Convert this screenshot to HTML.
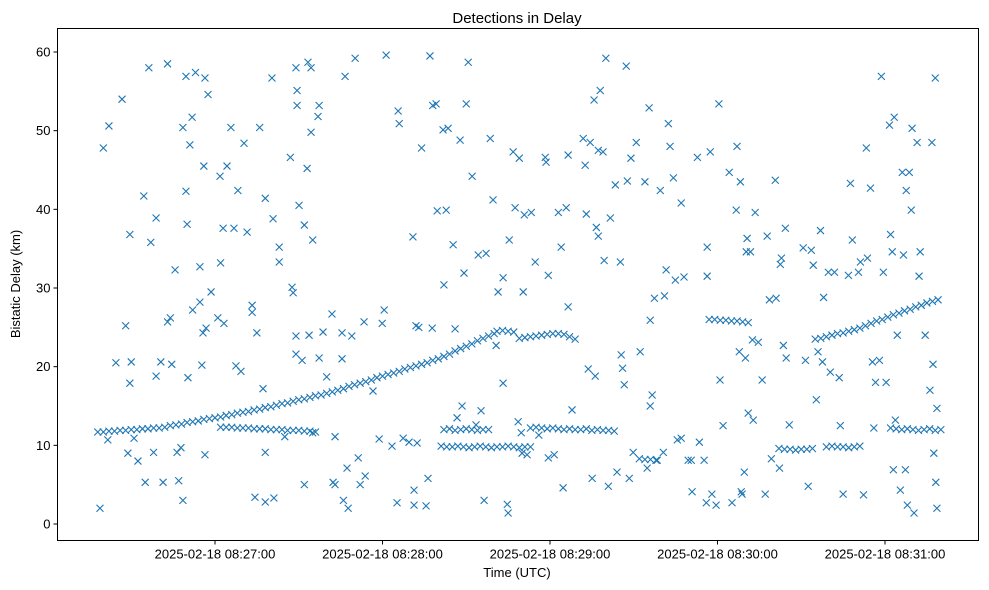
<!DOCTYPE html>
<html>
<head>
<meta charset="utf-8">
<style>
html,body{margin:0;padding:0;background:#fff;}
svg{display:block;font-family:"Liberation Sans","DejaVu Sans",sans-serif;}
</style>
</head>
<body>
<svg id="chart" width="989" height="590" viewBox="0 0 989 590">
<rect x="0" y="0" width="989" height="590" fill="#fff"/>
<text x="517" y="23" text-anchor="middle" font-size="15" fill="#000">Detections in Delay</text>
<g id="marks"></g>
<g id="axes"></g>
<rect x="57.5" y="28.5" width="921" height="512" fill="none" stroke="#000" stroke-width="1"/>
<text x="517" y="577" text-anchor="middle" font-size="13">Time (UTC)</text>
<text x="0" y="0" transform="translate(20,284) rotate(-90)" text-anchor="middle" font-size="13">Bistatic Delay (km)</text>
</svg>
<script>
// time in seconds after 08:26:00
const xTickTimes = [60,120,180,240,300];
const xTickLabels = ["2025-02-18 08:27:00","2025-02-18 08:28:00","2025-02-18 08:29:00","2025-02-18 08:30:00","2025-02-18 08:31:00"];
const yTicks = [0,10,20,30,40,50,60];

const trackATimes = [18,20,22,24,26,28,30,32,34,36,38,40,42,44,46,48,50,52,54,56,58,60,62,64,66,68,70,72,74,76,78,80,82,84,86,88,90,92,94,96,98,100,102,104,106,108,110,112,114,116,118,120,122,124,126,128,130,132,134,136,138,140,142,144,146,148,150,152,154,156,158,160,161,163,165,167,169,171,173,175,177,179,181,183,185,187,189];
const trackADelays = [11.7,11.7,11.8,11.8,11.9,11.9,12.0,12.0,12.1,12.1,12.2,12.2,12.3,12.5,12.6,12.7,12.9,13.0,13.1,13.3,13.4,13.5,13.6,13.8,13.9,14.1,14.2,14.3,14.5,14.6,14.8,14.9,15.1,15.3,15.4,15.6,15.8,15.9,16.1,16.3,16.4,16.6,16.8,17.0,17.2,17.5,17.7,17.9,18.1,18.3,18.6,18.8,19.0,19.2,19.4,19.7,19.9,20.1,20.3,20.5,20.8,21.0,21.3,21.6,22.0,22.3,22.6,22.9,23.3,23.6,23.9,24.2,24.5,24.6,24.5,24.4,23.6,23.7,23.8,23.9,24.0,24.1,24.2,24.2,24.1,23.8,23.5];

const trackBTimes = [62,64,66,68,70,72,74,76,78,80,82,84,86,88,90,92,94,96];
const trackBDelays = [12.3,12.3,12.3,12.2,12.2,12.2,12.1,12.1,12.1,12.0,12.0,12.0,11.9,11.9,11.9,11.8,11.8,11.7];

const trackCTimes = [141,143,145,147,149,151,153,155,157,159,161,163,165,167,169,171,173,142,144,146,148,150,152,154,156,158];
const trackCDelays = [9.9,9.8,9.8,9.9,9.8,9.7,9.8,9.9,9.8,9.7,9.8,9.8,9.9,9.8,9.7,9.8,9.8,12.0,12.1,11.9,12.0,12.1,12.0,11.9,12.0,12.0];

const trackDTimes = [173,175,177,179,181,183,185,187,189,191,193,195,197,199,201,203,212,214,216,218];
const trackDDelays = [12.2,12.3,12.2,12.1,12.2,12.1,12.0,12.1,12.0,12.0,12.1,11.9,12.0,11.9,11.9,11.8,8.3,8.2,8.2,8.1];

const trackFTimes = [237,239,241,243,245,247,249,251,262,264,266,268,270,272,274,279,281,283,285,287,289,291];
const trackFDelays = [26.0,26.0,25.9,25.9,25.8,25.8,25.7,25.6,9.6,9.5,9.5,9.4,9.5,9.5,9.6,9.8,9.9,9.8,9.8,9.7,9.8,9.9];

const trackGTimes = [275,277,279,281,283,285,287,289,291,293,295,297,299,301,303,305,307,309,311,313,315,317,319,302,304,306,308,310,312,314,316,318,320];
const trackGDelays = [23.5,23.6,23.8,24.0,24.2,24.3,24.5,24.7,24.9,25.2,25.5,25.8,26.0,26.3,26.6,26.8,27.1,27.3,27.6,27.8,28.1,28.3,28.5,12.2,12.1,12.0,12.1,12.0,11.9,12.0,12.1,11.9,12.0];

const noisePoints = [[18.8,2.0],[20,47.8],[22,50.6],[21.6,10.7],[24.5,20.5],[26.7,54.0],[28,25.2],[28.8,9.0],[29.5,36.8],[29.5,17.9],[30,20.6],[31,10.9],[32.4,8.0],[34.5,41.7],[35,5.3],[36.3,58.0],[37,35.8],[38,9.1],[38.9,38.9],[38.9,18.8],[40.6,20.6],[41.4,5.3],[43,58.5],[43,25.7],[44,26.2],[44.5,20.3],[45.7,32.3],[46.4,9.1],[47,5.5],[47.8,9.7],[48.5,3.0],[48.5,50.4],[49.6,56.9],[49.6,42.3],[50,38.1],[50.3,18.6],[51,48.2],[51.8,51.7],[52,27.2],[53,57.4],[54.6,32.7],[54.6,28.2],[55.3,20.2],[55.7,24.3],[56.4,8.8],[56.4,56.7],[56,45.5],[56.8,24.9],[57.5,54.6],[58.6,29.5],[61,26.2],[61.8,44.2],[62,33.2],[62.9,37.6],[63.2,25.5],[64.3,45.5],[65.7,50.4],[66.8,37.6],[67.5,20.1],[68.2,42.4],[69.3,19.4],[70.4,48.4],[71.5,37.1],[73.3,27.8],[73.3,26.9],[74.3,3.4],[75,24.3],[76,50.4],[77.2,17.2],[78,41.4],[78,9.1],[78,2.8],[80.4,56.7],[80.8,38.8],[81.1,3.3],[83,35.2],[83,33.3],[85,11.1],[87,46.6],[87.6,30.1],[88,29.4],[89,58],[89,23.9],[89,21.6],[89.4,55.1],[89.4,53.2],[90.1,40.5],[91.2,20.8],[92,38.0],[92,5.0],[93,45.2],[93.3,58.7],[93.7,24.0],[94.4,58],[94.4,49.8],[95,36.1],[95,11.6],[96.9,51.8],[97.3,53.2],[97.3,21.1],[98.7,24.4],[100,18.7],[101.9,26.7],[102.3,5.3],[103,11.1],[103,5.0],[105.5,21.0],[105.5,24.3],[106,3.0],[106.6,56.9],[107.3,7.1],[107.7,2.0],[109,23.9],[110.2,59.2],[111.3,8.4],[112,5.0],[113.4,25.7],[113.8,6.1],[116.6,16.9],[118.8,10.8],[119.9,25.5],[120.6,27.2],[121.3,59.6],[123.4,9.9],[125.2,2.7],[125.6,52.5],[126,50.9],[127.4,10.9],[129.5,10.4],[130.9,36.5],[131.3,4.3],[131.3,2.4],[132,25.2],[132.4,10.3],[133,25.0],[134,47.8],[135.6,2.3],[136.3,5.8],[137,59.5],[137.8,24.9],[138,53.2],[139.2,53.4],[139.6,39.8],[141.7,50.1],[142,30.4],[142.8,39.9],[143.5,50.3],[145.3,35.5],[146,24.8],[146.7,13.5],[147.8,48.8],[148.5,15.0],[149.2,31.9],[150,53.4],[150.7,58.7],[152.1,44.2],[153.5,12.6],[154.3,34.2],[155.3,14.4],[156.4,3.0],[157.1,34.4],[158.6,49.0],[159.6,41.2],[160.7,22.7],[161.4,29.5],[163.2,17.9],[163.2,31.3],[164.7,2.5],[165,1.4],[165.4,36.1],[166.8,47.3],[167.5,40.2],[168.6,13.0],[169,46.5],[169.7,11.6],[170,9.0],[170.4,29.5],[170.8,39.3],[171.8,8.8],[173.3,39.6],[174.7,33.3],[176,11.3],[178.3,46.6],[178.6,46.0],[179.4,8.4],[179.4,31.6],[181.5,8.8],[183,39.6],[184,35.2],[184.7,4.6],[185.8,40.2],[186.5,27.6],[186.5,46.9],[187.9,14.5],[191.9,49.0],[192.6,45.6],[193,39.4],[193.7,19.7],[194.4,48.5],[195.1,5.8],[195.8,53.9],[196.2,18.8],[196.6,37.7],[197.3,47.5],[197.3,36.6],[198,55.1],[199,47.3],[199.4,33.5],[200,59.2],[200.9,4.8],[201.6,38.9],[203.4,43.1],[204,6.6],[205.2,33.3],[205.5,21.5],[206,19.8],[206.6,17.7],[207.3,58.2],[207.7,43.6],[208.4,5.8],[209,46.5],[209.8,9.1],[210.9,48.5],[212.3,21.9],[214,43.5],[214.8,7.1],[215.5,52.9],[215.9,15.0],[216.6,16.4],[215.9,25.9],[217.4,28.7],[218.4,8.1],[219.5,42.4],[220.6,9.1],[221,29.0],[221.6,32.3],[222.4,50.9],[223,48.0],[224.2,44.0],[224.9,31.0],[225.6,10.7],[227,40.8],[227,10.9],[228,31.4],[229.5,8.1],[230.6,8.1],[230.9,4.1],[232.8,46.6],[233.5,10.4],[235.2,8.1],[236,2.7],[236.3,31.5],[236.3,35.2],[237.4,47.3],[238,3.8],[239.5,2.4],[240.5,53.4],[240.9,18.3],[242,12.5],[244.2,44.7],[245.2,2.7],[246.7,39.9],[247,48.0],[247.8,21.9],[248.2,43.5],[248.5,4.1],[248.8,3.8],[249.6,6.6],[250,21.1],[250.3,34.6],[250.6,36.3],[251,14.1],[251.8,34.6],[252.5,23.4],[252.8,13.2],[253.5,39.6],[254.6,23.1],[256,18.3],[257.1,3.8],[257.8,36.6],[258.6,28.5],[259.3,8.3],[260.7,43.7],[261,28.7],[262.2,7.1],[262.5,33.0],[262.9,33.8],[263.6,22.7],[264.3,37.6],[264.6,21.1],[265.7,12.6],[270.7,35.1],[271.5,20.8],[272.5,4.8],[273.6,34.8],[274.3,32.9],[275.4,15.8],[276,21.9],[276.9,37.3],[277.6,20.6],[278,28.8],[279.7,32.0],[280.4,19.3],[281.9,32.0],[283.6,18.6],[284,12.5],[285,3.8],[286.9,31.6],[287.6,43.3],[288.3,36.1],[290.5,32.0],[291.2,33.3],[292.3,3.7],[293.3,47.8],[293.7,33.8],[294.8,42.7],[295.5,20.6],[296,12.2],[296.6,18.0],[298,20.8],[298.7,56.9],[299.4,32.0],[300.4,18.0],[301.6,50.7],[302,36.8],[302.6,34.6],[303,6.9],[303.3,51.7],[303.7,13.2],[304.4,24.0],[305.5,4.3],[306.2,44.7],[306.6,34.2],[307.3,6.9],[307.6,42.4],[308,2.4],[308.7,44.7],[309.4,39.9],[309.7,50.3],[310.4,1.4],[311.5,48.5],[312.2,31.5],[312.6,34.6],[314.4,24.0],[316.1,17.0],[316.8,48.5],[317.2,20.3],[317.5,9.0],[318,56.7],[318.2,5.3],[318.6,14.7],[318.6,2.0]];

const NS = "http://www.w3.org/2000/svg";
const plotLeft = 57.5, plotRight = 978.5, plotTop = 28.5, plotBottom = 540.5;
function xScale(t){ return 215 + (t - 60) * (670 / 240); }
function yScale(d){ return 524 - d * (472 / 60); }

const axes = document.getElementById('axes');
const marks = document.getElementById('marks');

yTicks.forEach(v => {
  const y = yScale(v);
  const tk = document.createElementNS(NS,'line');
  tk.setAttribute('x1', plotLeft-4); tk.setAttribute('x2', plotLeft);
  tk.setAttribute('y1', y); tk.setAttribute('y2', y);
  tk.setAttribute('stroke','#000');
  
  
  axes.appendChild(tk);
  const tx = document.createElementNS(NS,'text');
  tx.setAttribute('x', plotLeft-7); tx.setAttribute('y', y+4.5);
  tx.setAttribute('text-anchor','end'); tx.setAttribute('font-size','13');
  tx.textContent = v;
  
  
  axes.appendChild(tx);
});

xTickTimes.forEach((t,i) => {
  const x = xScale(t);
  const tk = document.createElementNS(NS,'line');
  tk.setAttribute('x1', x); tk.setAttribute('x2', x);
  tk.setAttribute('y1', plotBottom); tk.setAttribute('y2', plotBottom+4);
  tk.setAttribute('stroke','#000');
  
  
  axes.appendChild(tk);
  const tx = document.createElementNS(NS,'text');
  tx.setAttribute('x', x); tx.setAttribute('y', plotBottom+18);
  tx.setAttribute('text-anchor','middle'); tx.setAttribute('font-size','13');
  tx.textContent = xTickLabels[i];
  
  
  axes.appendChild(tx);
});

function drawX(t, d){
  const x = xScale(t), y = yScale(d), r = 3.5;
  const p = document.createElementNS(NS,'path');
  p.setAttribute('d', `M${x-r},${y-r}L${x+r},${y+r}M${x-r},${y+r}L${x+r},${y-r}`);
  p.setAttribute('stroke','#1f77b4'); p.setAttribute('stroke-width','1.1'); p.setAttribute('fill','none');
  
  
  marks.appendChild(p);
}
noisePoints.forEach(p => drawX(p[0], p[1]));
[[trackATimes,trackADelays],[trackBTimes,trackBDelays],[trackCTimes,trackCDelays],[trackDTimes,trackDDelays],[trackFTimes,trackFDelays],[trackGTimes,trackGDelays]]
  .forEach(pair => pair[0].forEach((t,i) => drawX(t, pair[1][i])));
</script>
</body>
</html>
